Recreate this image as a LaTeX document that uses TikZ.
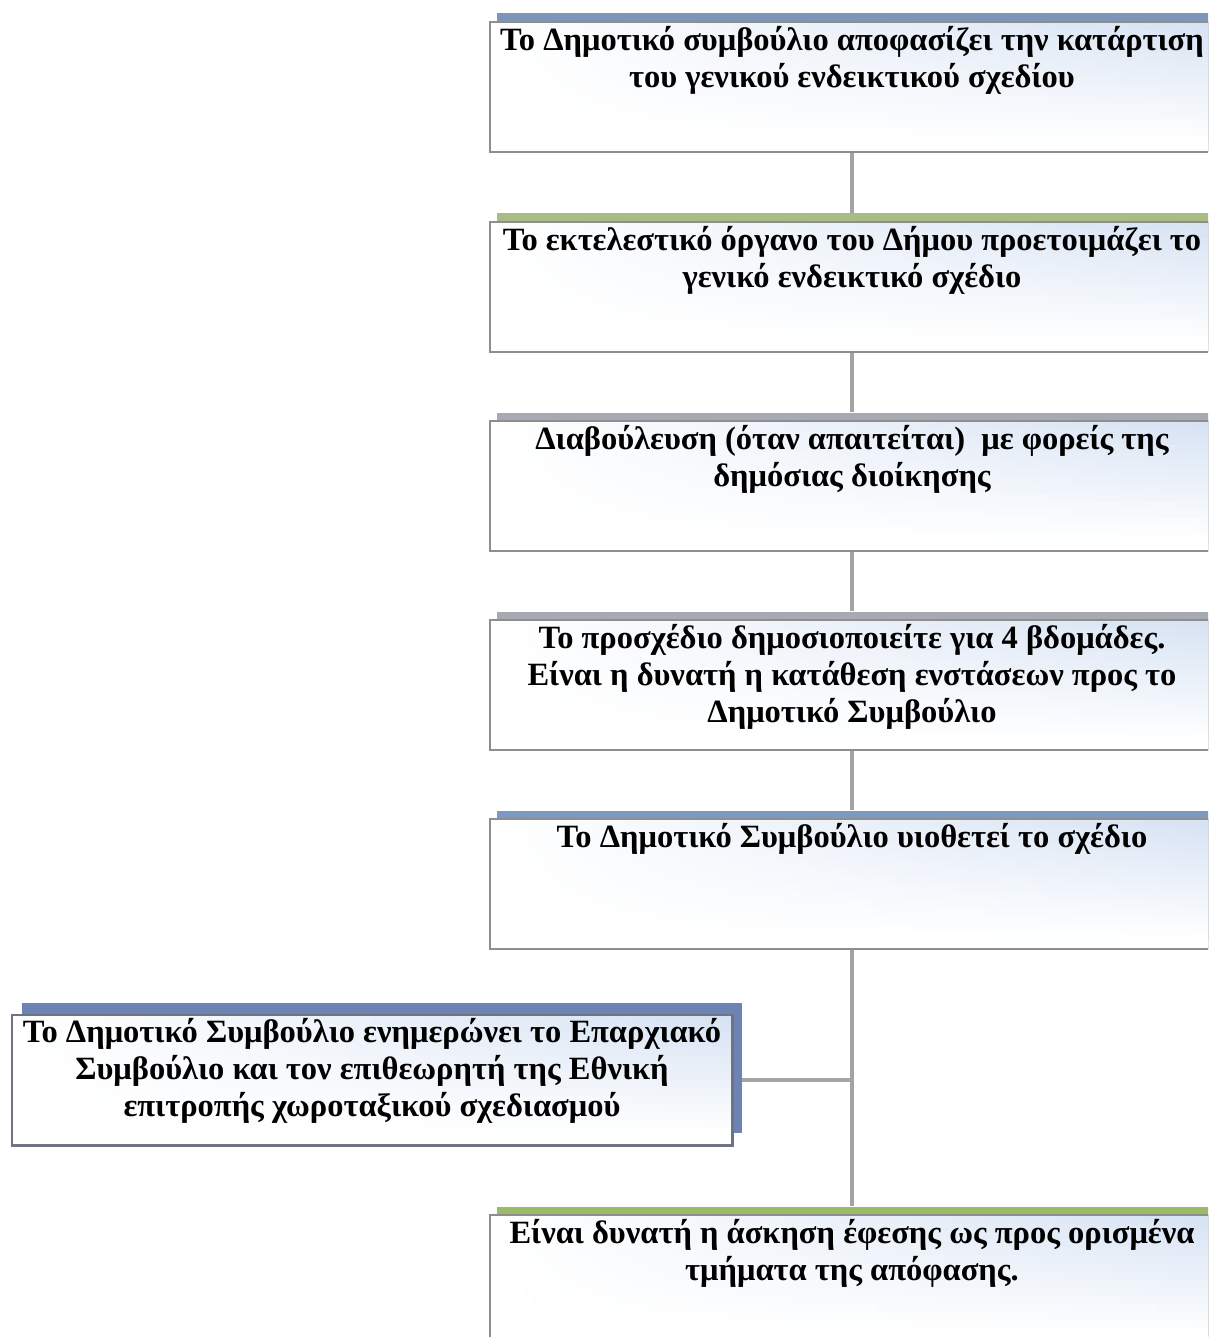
\documentclass[tikz,border=0pt]{standalone}
\usepackage{fontspec}
\setmainfont{Liberation Serif}
\usetikzlibrary{calc}
\definecolor{barblue}{HTML}{7D95B7}
\definecolor{bargreen}{HTML}{A9BC85}
\definecolor{bargray}{HTML}{A7AAB2}
\definecolor{barsky}{HTML}{7C99C2}
\definecolor{barleaf}{HTML}{9CBB68}
\definecolor{shadeblue}{HTML}{6D83B3}
\definecolor{framegray}{HTML}{8E8E8E}
\definecolor{framedark}{HTML}{6E7482}
\definecolor{haze}{HTML}{D6E2F3}
\definecolor{linkgray}{HTML}{A3A3A3}
\tikzset{
  stepbox/.style={draw=none, fill=white, minimum width=735pt,
    minimum height=129pt, inner sep=0pt},
  backbar/.style={fill=#1, draw=none, minimum width=735pt,
    minimum height=129pt, inner sep=0pt},
  steptext/.style={font=\bfseries\fontsize{32.5}{37}\selectfont, align=center,
    inner sep=0pt, anchor=north},
  link/.style={draw=linkgray, line width=4.5pt}
}
\begin{document}
\begin{tikzpicture}[x=1pt,y=-1pt]
\useasboundingbox (0,0) rectangle (1208,1337);
\clip (0,0) rectangle (1208,1337);
\fill[white] (0,0) rectangle (1208,1337);

% vertical spine of the flow
\coordinate (spine) at (852,0);

% coloured bars behind the steps (offset up and right)
\node[backbar=barblue]  (s1) at (864.5,  78) {};
\node[backbar=bargreen] (s2) at (864.5, 278) {};
\node[backbar=bargray]  (s3) at (864.5, 477) {};
\node[backbar=bargray]  (s4) at (864.5, 676) {};
\node[backbar=barsky]   (s5) at (864.5, 875) {};
\node[backbar=shadeblue, minimum width=720pt, minimum height=130pt] (s6) at (382, 1068) {};
\node[backbar=barleaf]  (s7) at (864.5,1271) {};

% connectors
\draw[link] (s1.south -| spine) -- (s2.north -| spine);
\draw[link] (s2.south -| spine) -- (s3.north -| spine);
\draw[link] (s3.south -| spine) -- (s4.north -| spine);
\draw[link] (s4.south -| spine) -- (s5.north -| spine);
\draw[link] (s5.south -| spine) -- (s7.north -| spine);

% step boxes
\node[stepbox] (b1) at (857.5,  87) {};
\node[stepbox] (b2) at (857.5, 287) {};
\node[stepbox] (b3) at (857.5, 486) {};
\node[stepbox] (b4) at (857.5, 685) {};
\node[stepbox] (b5) at (857.5, 884) {};
\node[stepbox, minimum width=720pt, minimum height=130pt] (b6) at (372, 1080) {};
\node[stepbox] (b7) at (857.5,1280) {};

% branch to the side step
\draw[link] (b6.center -| s6.east) -- (b6.center -| spine);

% soft bluish sheen, strongest at the top right, fading downwards
\foreach \b in {b1,b2,b3,b4,b5,b6,b7}
  \foreach \i in {0,...,15} {
    \pgfmathsetmacro\k{max(0,100-\i*7)}
    \fill[left color=white, right color=haze!\k!white]
      ($(\b.north west)!\i/16!(\b.south west)$)
      rectangle
      ($(\b.north east)!\i/16+1/16!(\b.south east)$);
  }

% box frames on top of the sheen
\foreach \b/\c/\w in {b1/framegray/2, b2/framegray/2, b3/framegray/2, b4/framegray/2,
                      b5/framegray/2, b6/framedark/2.6, b7/framegray/2}
  \draw[draw=\c, line width=\w pt] (\b.south west) rectangle (\b.north east);

% texts
\node[steptext] (t1) at ([yshift=-2pt]b1.north -| spine) {\strut Το Δημοτικό συμβούλιο αποφασίζει την κατάρτιση\\ του γενικού ενδεικτικού σχεδίου};
\node[steptext] (t2) at ([yshift=-2pt]b2.north -| spine) {\strut Το εκτελεστικό όργανο του Δήμου προετοιμάζει το\\ γενικό ενδεικτικό σχέδιο};
\node[steptext] (t3) at ([yshift=-2pt]b3.north -| spine) {\strut Διαβούλευση (όταν απαιτείται)\ \ με φορείς της\\ δημόσιας διοίκησης};
\node[steptext] (t4) at ([yshift=-2pt]b4.north -| spine) {\strut Το προσχέδιο δημοσιοποιείτε για 4 βδομάδες.\\ Είναι η δυνατή η κατάθεση ενστάσεων προς το\\ Δημοτικό Συμβούλιο};
\node[steptext] (t5) at ([yshift=-2pt]b5.north -| spine) {\strut Το Δημοτικό Συμβούλιο υιοθετεί το σχέδιο};
\node[steptext] (t6) at ([yshift=-2pt]b6.north) {\strut Το Δημοτικό Συμβούλιο ενημερώνει το Επαρχιακό\\ Συμβούλιο και τον επιθεωρητή της Εθνική\\ επιτροπής χωροταξικού σχεδιασμού};
\node[steptext] (t7) at ([yshift=-2pt]b7.north -| spine) {\strut Είναι δυνατή η άσκηση έφεσης ως προς ορισμένα\\ τμήματα της απόφασης.};
\end{tikzpicture}
\end{document}
